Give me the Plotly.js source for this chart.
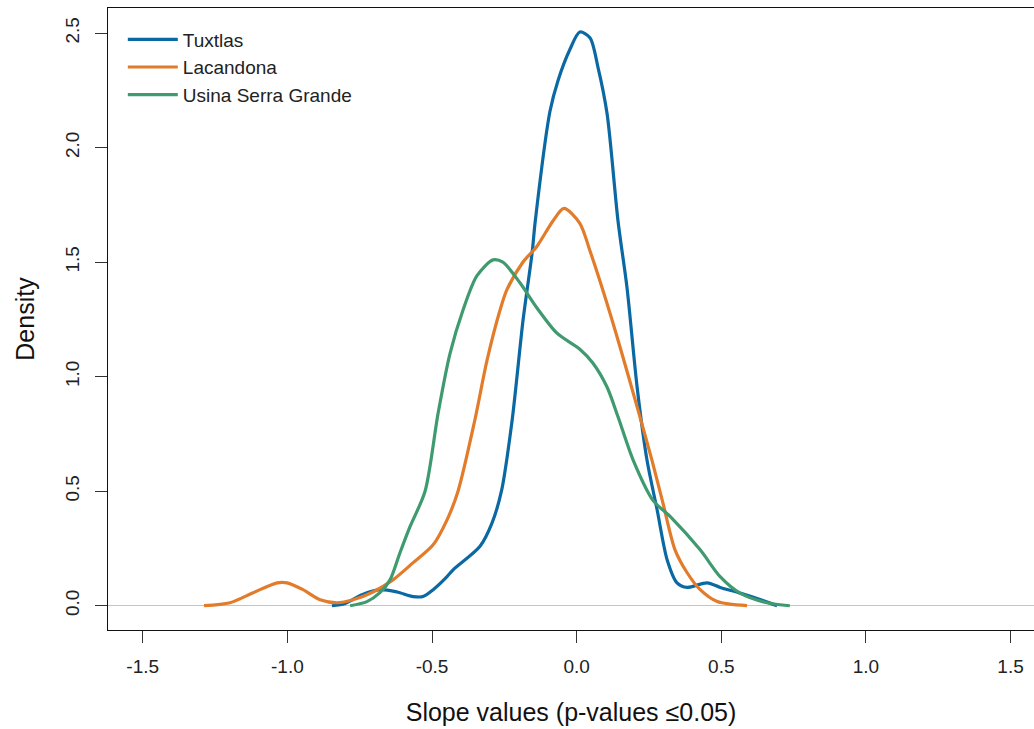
<!DOCTYPE html>
<html>
<head>
<meta charset="utf-8">
<script src="https://cdn.plot.ly/plotly-3.0.1.min.js"></script>
<style>html,body{margin:0;padding:0;background:#fff;}#chart{width:1034px;height:729px;}</style>
</head>
<body>
<div id="chart"></div>
<script>
// Tuxtlas density curve
const tuxtlasX = [-0.846,-0.80,-0.742,-0.679,-0.621,-0.565,-0.531,-0.496,-0.448,-0.427,-0.334,-0.293,-0.26,-0.223,-0.185,-0.154,-0.143,-0.092,-0.064,-0.023,0.011,0.046,0.074,0.105,0.143,0.174,0.209,0.243,0.278,0.313,0.347,0.382,0.451,0.496,0.565,0.634,0.693];
const tuxtlasY = [0.0,0.01,0.048,0.07,0.06,0.04,0.04,0.07,0.127,0.157,0.26,0.36,0.5,0.81,1.25,1.54,1.68,2.16,2.295,2.43,2.505,2.48,2.35,2.15,1.68,1.39,0.955,0.637,0.42,0.2,0.1,0.08,0.1,0.08,0.055,0.027,0.0];
// Lacandona density curve
const lacandonaX = [-1.288,-1.198,-1.118,-1.035,-1.001,-0.946,-0.887,-0.828,-0.773,-0.704,-0.635,-0.566,-0.496,-0.448,-0.410,-0.352,-0.310,-0.265,-0.241,-0.186,-0.137,-0.082,-0.044,0.011,0.046,0.105,0.150,0.212,0.260,0.298,0.340,0.382,0.427,0.486,0.589];
const lacandonaY = [0.0,0.013,0.057,0.1,0.1,0.07,0.026,0.013,0.026,0.06,0.113,0.187,0.266,0.375,0.5,0.81,1.07,1.29,1.38,1.5,1.57,1.68,1.735,1.67,1.55,1.32,1.13,0.855,0.637,0.45,0.244,0.144,0.07,0.018,0.0];
// Usina Serra Grande density curve
const usinaX = [-0.783,-0.725,-0.680,-0.645,-0.611,-0.576,-0.524,-0.479,-0.438,-0.393,-0.345,-0.289,-0.255,-0.196,-0.137,-0.068,0.011,0.056,0.105,0.143,0.195,0.264,0.323,0.427,0.496,0.565,0.658,0.737];
const usinaY = [0.0,0.018,0.057,0.113,0.23,0.345,0.5,0.84,1.1,1.29,1.44,1.51,1.5,1.41,1.3,1.19,1.12,1.06,0.955,0.825,0.637,0.46,0.39,0.244,0.127,0.055,0.013,0.0];

const seriesNames = ["Tuxtlas", "Lacandona", "Usina Serra Grande"];
const seriesColors = ["#0a69a3", "#e27b2a", "#3f9a6f"];

const xTickVals = [-1.5,-1.0,-0.5,0.0,0.5,1.0,1.5];
const xTickText = ["-1.5","-1.0","-0.5","0.0","0.5","1.0","1.5"];
const yTickVals = [0.0,0.5,1.0,1.5,2.0,2.5];
const yTickText = ["0.0","0.5","1.0","1.5","2.0","2.5"];

const xs = [tuxtlasX, lacandonaX, usinaX];
const ys = [tuxtlasY, lacandonaY, usinaY];

const font = "Liberation Sans, Arial, sans-serif";

const traces = seriesNames.map((n, i) => ({
  type: "scatter", mode: "lines", name: n,
  x: xs[i], y: ys[i],
  line: {color: seriesColors[i], width: 3.2, shape: "spline", smoothing: 0.8}
}));

const layout = {
  width: 1034, height: 729,
  margin: {l: 108, r: 0, t: 8, b: 99},
  paper_bgcolor: "#ffffff", plot_bgcolor: "#ffffff",
  font: {family: font, color: "#222"},
  showlegend: true,
  legend: {
    x: 0.016, y: 0.98, xanchor: "left", yanchor: "top",
    bgcolor: "rgba(0,0,0,0)", borderwidth: 0,
    font: {family: font, size: 19, color: "#222"},
    itemwidth: 50
  },
  xaxis: {
    range: [-1.62, 1.581],
    tickmode: "array", tickvals: xTickVals, ticktext: xTickText,
    ticks: "outside", ticklen: 12, tickwidth: 1, tickcolor: "#333",
    tickfont: {family: font, size: 19, color: "#222"},
    ticklabelstandoff: 7,
    showgrid: false, zeroline: false,
    showline: true, linecolor: "#111", linewidth: 1, mirror: true,
    title: {text: "Slope values (p-values ≤0.05)", font: {family: font, size: 25, color: "#111"}, standoff: 27}
  },
  yaxis: {
    range: [-0.106, 2.61],
    tickmode: "array", tickvals: yTickVals, ticktext: yTickText,
    ticks: "outside", ticklen: 12, tickwidth: 1, tickcolor: "#333",
    tickangle: -90,
    tickfont: {family: font, size: 19, color: "#222"},
    ticklabelstandoff: 8,
    showgrid: false,
    zeroline: true, zerolinecolor: "#c4c4c4", zerolinewidth: 1,
    showline: true, linecolor: "#111", linewidth: 1, mirror: false,
    title: {text: "Density", font: {family: font, size: 25, color: "#111"}, standoff: 20}
  }
};

Plotly.newPlot("chart", traces, layout, {displayModeBar: false, staticPlot: true});
</script>
</body>
</html>
